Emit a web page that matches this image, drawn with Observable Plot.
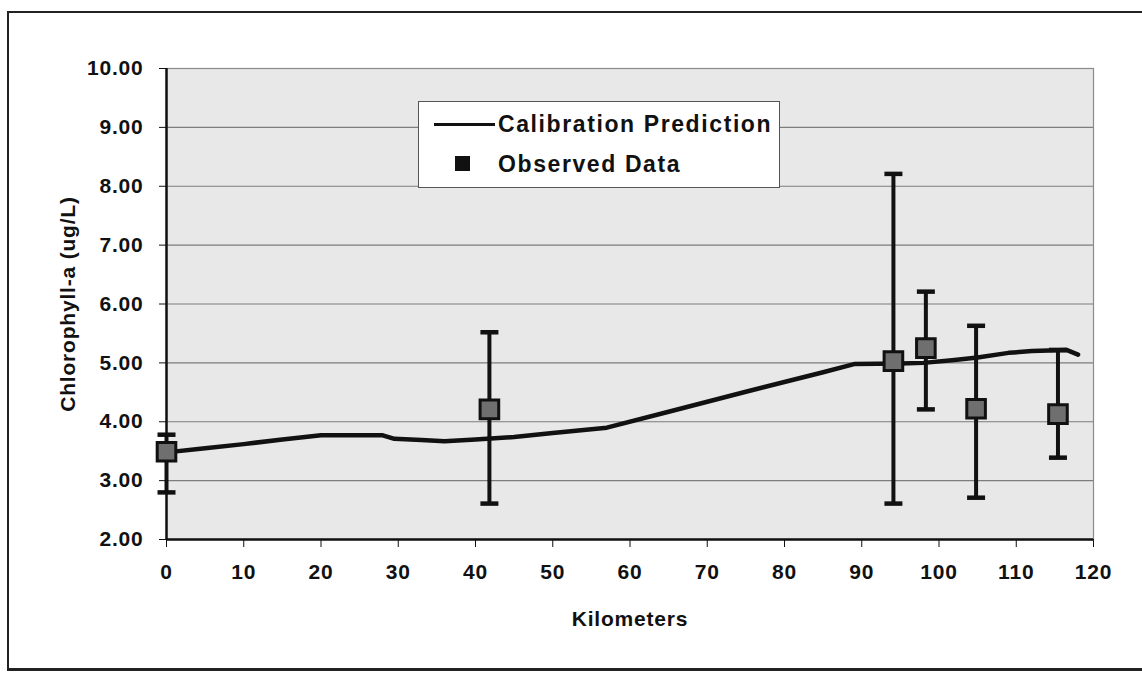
<!DOCTYPE html>
<html><head><meta charset="utf-8">
<script src="https://cdn.jsdelivr.net/npm/d3@7"></script>
<script src="https://cdn.jsdelivr.net/npm/@observablehq/plot@0.6"></script>
<style>
body{margin:0;background:#fff;font-family:"Liberation Sans",Arial,sans-serif;}
#wrap{position:relative;width:1142px;height:677px;overflow:hidden;}
#frame{position:absolute;left:7px;top:11px;width:1140px;height:655px;border-left:2px solid #222;border-top:2px solid #222;border-bottom:3px solid #222;pointer-events:none;}
#legend{position:absolute;left:418px;top:101px;width:362px;height:87px;background:#fff;border:1px solid #555;box-sizing:border-box;font-weight:bold;font-size:23px;letter-spacing:1.6px;color:#111;}
#legend .row{position:absolute;left:0;height:30px;line-height:30px;}
#legend .txt{position:absolute;left:79px;white-space:nowrap;}
#legend .ln{position:absolute;left:15px;top:14px;width:61px;height:3px;background:#111;}
#legend .sq{position:absolute;left:36px;top:7px;width:15px;height:15px;background:#111;}
</style></head>
<body>
<div id="wrap">
  <div id="chart"></div>
  <div id="frame"></div>
  <div id="legend">
    <div class="row" style="top:7px;width:100%"><div class="ln"></div><div class="txt">Calibration Prediction</div></div>
    <div class="row" style="top:47px;width:100%"><div class="sq"></div><div class="txt">Observed Data</div></div>
  </div>
</div>
<script>
// Calibration prediction (model line)
const predKm  = [0, 5, 10, 15, 20, 28, 29.5, 33, 36, 40, 45, 50, 57, 65, 75, 85, 89, 95, 98, 102, 105, 109, 112, 116.5, 118];
const predVal = [3.48, 3.55, 3.62, 3.70, 3.77, 3.77, 3.71, 3.69, 3.67, 3.70, 3.74, 3.81, 3.90, 4.17, 4.51, 4.84, 4.98, 4.99, 5.00, 5.05, 5.09, 5.17, 5.20, 5.22, 5.14];
// Observed data with error bars
const obsKm   = [0, 41.8, 94.1, 98.3, 104.8, 115.4];
const obsVal  = [3.49, 4.21, 5.03, 5.25, 4.22, 4.13];
const obsHigh = [3.78, 5.52, 8.21, 6.21, 5.63, 5.22];
const obsLow  = [2.80, 2.61, 2.61, 4.21, 2.71, 3.39];
// Tick labels
const xTicks = [0, 10, 20, 30, 40, 50, 60, 70, 80, 90, 100, 110, 120];
const yTicks = [2, 3, 4, 5, 6, 7, 8, 9, 10];

const pred = predKm.map((k, i) => ({km: k, v: predVal[i]}));
const obs = obsKm.map((k, i) => ({km: k, v: obsVal[i], hi: obsHigh[i], lo: obsLow[i]}));
const caps = obs.flatMap(d => [{km: d.km, v: d.hi}, {km: d.km, v: d.lo}]);

const capSymbol = {draw(ctx) { ctx.moveTo(-9, 0); ctx.lineTo(9, 0); }};

const chart = Plot.plot({
  width: 1142,
  height: 677,
  marginTop: 68,
  marginBottom: 138,
  marginLeft: 166,
  marginRight: 49,
  style: {fontFamily: "'Liberation Sans', Arial, sans-serif", fontSize: "21px", fontWeight: "bold", letterSpacing: "0.8px", color: "#111", background: "transparent"},
  x: {domain: [0, 120]},
  y: {domain: [2, 10]},
  marks: [
    Plot.frame({fill: "#e8e8e8", stroke: null}),
    Plot.gridY(yTicks, {stroke: "#7d7d7d", strokeOpacity: 1, strokeWidth: 1.2}),
    Plot.frame({stroke: "#8a8a8a", strokeWidth: 1.2}),
    Plot.axisY({ticks: yTicks, tickFormat: d3.format(".2f"), tickSize: 7, tickPadding: 16, stroke: "#111",
      label: "Chlorophyll-a (ug/L)", labelAnchor: "center", labelArrow: "none", labelOffset: 106}),
    Plot.axisX({ticks: xTicks, tickFormat: d => String(d), tickSize: 8, tickPadding: 17, stroke: "#111",
      label: "Kilometers", labelAnchor: "center", labelArrow: "none", labelOffset: 86}),
    Plot.ruleX([0], {stroke: "#111", strokeWidth: 2.5}),
    Plot.ruleY([2], {stroke: "#111", strokeWidth: 2.5}),
    Plot.line(pred, {x: "km", y: "v", stroke: "#111", strokeWidth: 4.5, strokeLinejoin: "round"}),
    Plot.ruleX(obs, {x: "km", y1: "lo", y2: "hi", stroke: "#111", strokeWidth: 4}),
    Plot.dot(caps, {x: "km", y: "v", symbol: capSymbol, stroke: "#111", strokeWidth: 4.5, fill: "none"}),
    Plot.dot(obs, {x: "km", y: "v", symbol: "square", r: 10.5, fill: "#6f6f6f", stroke: "#111", strokeWidth: 3})
  ]
});
document.getElementById("chart").appendChild(chart);
</script>
</body></html>
